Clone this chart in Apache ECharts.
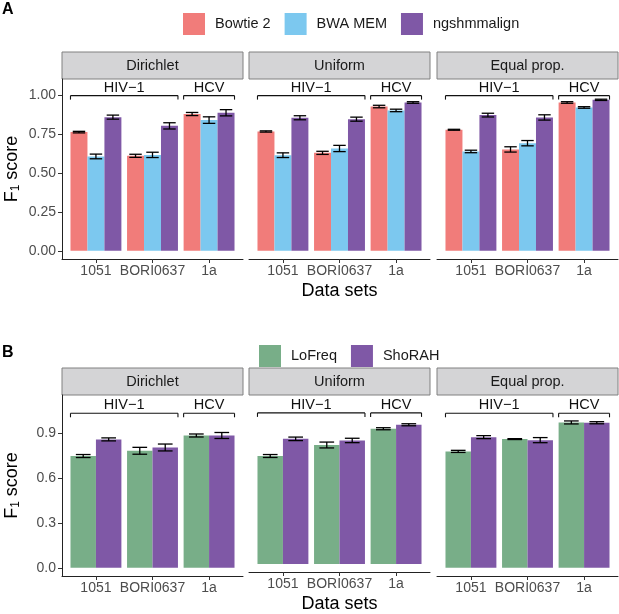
<!DOCTYPE html>
<html><head><meta charset="utf-8">
<script src="https://cdn.jsdelivr.net/npm/echarts@6/dist/echarts.min.js"></script>
<style>html,body{margin:0;padding:0;background:#fff}#c{width:619px;height:614px}</style>
</head><body><div id="c"></div>
<script>
// ---------- data ----------
const panels = ['Dirichlet', 'Uniform', 'Equal prop.'];
const datasets = ['1051', 'BORI0637', '1a'];
const virus = ['HIV\u22121', 'HIV\u22121', 'HCV'];
const methodsA = ['Bowtie 2', 'BWA MEM', 'ngshmmalign'];
const methodsB = ['LoFreq', 'ShoRAH'];
const yTicksA = [0, 0.25, 0.5, 0.75, 1];
const yTicksB = [0, 0.3, 0.6, 0.9];

// panel A values per panel (Dirichlet, Uniform, Equal prop.)
const bowtie2 = [[0.761, 0.609, 0.877], [0.765, 0.628, 0.925], [0.776, 0.650, 0.951]];
const bowtie2Err = [[0.005, 0.010, 0.010], [0.004, 0.010, 0.008], [0.003, 0.017, 0.005]];
const bwaMem = [[0.605, 0.615, 0.838], [0.613, 0.656, 0.900], [0.637, 0.690, 0.919]];
const bwaMemErr = [[0.015, 0.017, 0.021], [0.015, 0.020, 0.008], [0.008, 0.017, 0.005]];
const ngshmmalign = [[0.857, 0.801, 0.885], [0.853, 0.844, 0.951], [0.870, 0.855, 0.968]];
const ngshmmalignErr = [[0.013, 0.020, 0.020], [0.013, 0.013, 0.005], [0.012, 0.017, 0.004]];
// panel B values
const loFreq = [[0.745, 0.780, 0.882], [0.736, 0.811, 0.922], [0.776, 0.858, 0.969]];
const loFreqErr = [[0.010, 0.023, 0.010], [0.010, 0.020, 0.007], [0.007, 0.003, 0.010]];
const shoRAH = [[0.856, 0.802, 0.882], [0.853, 0.842, 0.949], [0.871, 0.851, 0.967]];
const shoRAHErr = [[0.010, 0.023, 0.020], [0.012, 0.015, 0.007], [0.010, 0.017, 0.007]];

// ---------- layout / style ----------
const FONT = '"Liberation Sans", Arial, Helvetica, sans-serif';
const colorsA = ['#F17C7A', '#7CC8EF', '#7F58A6'];
const colorsB = ['#78AE88', '#7F58A6'];
const PANEL_LEFT = [62, 249, 437];
const PANEL_W = 181;
const rows = [
  { top: 79, height: 180, yMin: -0.0525, yMax: 1.1015, ticks: yTicksA, dec: 2,
    names: methodsA, colors: colorsA, vals: [bowtie2, bwaMem, ngshmmalign], errs: [bowtie2Err, bwaMemErr, ngshmmalignErr],
    bracketY: 0.995, labelY: 1.045, capW: 0.22 },
  { top: 395, height: 181, yMin: -0.055, yMax: 1.152, ticks: yTicksB, dec: 1,
    names: methodsB, colors: colorsB, vals: [loFreq, shoRAH], errs: [loFreqErr, shoRAHErr],
    bracketY: 1.03, labelY: 1.085, capW: 0.26 }
];
const STRIP_H = 27;
const DODGE = 0.9;

const grids = [], xAxes = [], yAxes = [], series = [], graphics = [];

// virus groups from data
const vGroups = [];
virus.forEach((v, i) => {
  const last = vGroups[vGroups.length - 1];
  if (last && last.name === v) last.end = i; else vGroups.push({ name: v, start: i, end: i });
});

rows.forEach((row, r) => {
  panels.forEach((pn, p) => {
    const g = r * 3 + p;
    grids.push({ left: PANEL_LEFT[p], top: row.top, width: PANEL_W, height: row.height, containLabel: false });
    xAxes.push({
      gridIndex: g, type: 'value', min: -0.6, max: 2.6,
      axisLine: { show: true, onZero: false, lineStyle: { color: '#222', width: 1 } },
      axisTick: { show: true, customValues: [0, 1, 2], length: 4, lineStyle: { color: '#333' } },
      axisLabel: { customValues: [0, 1, 2], formatter: v => datasets[Math.round(v)], color: '#4d4d4d', fontSize: 14, fontFamily: FONT, margin: 5 },
      splitLine: { show: false },
      name: p === 1 ? 'Data sets' : '', nameLocation: 'middle', nameGap: 23,
      nameTextStyle: { fontSize: 18, color: '#000', fontFamily: FONT }
    });
    yAxes.push({
      gridIndex: g, type: 'value', min: row.yMin, max: row.yMax,
      axisLine: { show: p === 0, onZero: false, lineStyle: { color: '#222', width: 1 } },
      axisTick: { show: p === 0, customValues: row.ticks, length: 4, lineStyle: { color: '#333' } },
      axisLabel: { show: p === 0, customValues: row.ticks, formatter: v => v.toFixed(row.dec), color: '#4d4d4d', fontSize: 14, fontFamily: FONT, margin: 6 },
      splitLine: { show: false },
      name: p === 0 ? '{a|F}{s|1}{a| score}' : '', nameLocation: 'middle', nameGap: 40,
      nameTextStyle: { color: '#000', fontFamily: FONT, fontSize: 18,
        rich: { a: { fontSize: 18, fontFamily: FONT, color: '#000' }, s: { fontSize: 12, fontFamily: FONT, color: '#000', padding: [8, 0, 0, 0] } } }
    });
    // strip
    graphics.push({ type: 'rect', x: PANEL_LEFT[p], y: row.top - STRIP_H, shape: { x: 0, y: 0, width: PANEL_W, height: STRIP_H },
      style: { fill: '#D4D4D6', stroke: '#808080', lineWidth: 1 } });
    graphics.push({ type: 'text', x: PANEL_LEFT[p] + PANEL_W / 2, y: row.top - STRIP_H / 2,
      style: { text: pn, textAlign: 'center', textVerticalAlign: 'middle', font: '14.5px ' + FONT, fill: '#1a1a1a' } });

    // bars
    const n = row.names.length;
    const w = DODGE / n;
    row.names.forEach((name, k) => {
      const offset = -DODGE / 2 + w * (k + 0.5);
      const color = row.colors[k];
      const vals = row.vals[k][p], errs = row.errs[k][p];
      series.push({
        type: 'custom', name, xAxisIndex: g, yAxisIndex: g, itemStyle: { color },
        data: vals.map((v, i) => [i, v, errs[i]]),
        encode: { x: 0, y: 1 },
        renderItem: (params, api) => {
          const x = api.value(0) + offset, v = api.value(1), e = api.value(2);
          const a = api.coord([x - w / 2, v]), b = api.coord([x + w / 2, 0]);
          const lo = api.coord([x, v - e]), hi = api.coord([x, v + e]);
          const cl = api.coord([x - row.capW / 2, 0])[0], cr = api.coord([x + row.capW / 2, 0])[0];
          const ls = { stroke: '#000', lineWidth: 1.3 };
          return { type: 'group', children: [
            { type: 'rect', shape: { x: a[0], y: a[1], width: b[0] - a[0], height: b[1] - a[1] }, style: { fill: color } },
            { type: 'line', shape: { x1: lo[0], y1: lo[1], x2: hi[0], y2: hi[1] }, style: ls },
            { type: 'line', shape: { x1: cl, y1: lo[1], x2: cr, y2: lo[1] }, style: ls },
            { type: 'line', shape: { x1: cl, y1: hi[1], x2: cr, y2: hi[1] }, style: ls }
          ] };
        }
      });
    });
    // virus brackets
    series.push({
      type: 'custom', name: 'bracket' + g, xAxisIndex: g, yAxisIndex: g, silent: true,
      data: vGroups.map(v => [v.start, v.end]),
      renderItem: (params, api) => {
        const grp = vGroups[params.dataIndex];
        const L = api.coord([api.value(0) - 0.45, row.bracketY]);
        const R = api.coord([api.value(1) + 0.45, row.bracketY]);
        const T = api.coord([(api.value(0) + api.value(1)) / 2, row.labelY]);
        const ls = { stroke: '#111', lineWidth: 1.1 };
        return { type: 'group', children: [
          { type: 'line', shape: { x1: L[0], y1: L[1], x2: R[0], y2: R[1] }, style: ls },
          { type: 'line', shape: { x1: L[0], y1: L[1], x2: L[0], y2: L[1] + 4 }, style: ls },
          { type: 'line', shape: { x1: R[0], y1: R[1], x2: R[0], y2: R[1] + 4 }, style: ls },
          { type: 'text', x: T[0], y: T[1], style: { text: grp.name, textAlign: 'center', textVerticalAlign: 'middle', font: '14.5px ' + FONT, fill: '#111' } }
        ] };
      }
    });
  });
});

graphics.push({ type: 'text', x: 2, y: 2, style: { text: 'A', font: 'bold 16px ' + FONT, fill: '#000' } });
graphics.push({ type: 'text', x: 2, y: 345, style: { text: 'B', font: 'bold 16px ' + FONT, fill: '#000' } });

const legendBase = { orient: 'horizontal', icon: 'rect', itemWidth: 22, itemHeight: 22, itemGap: 14, selectedMode: false,
  textStyle: { fontSize: 14.5, color: '#1a1a1a', fontFamily: FONT, padding: [0, 0, 0, 5] } };

const option = {
  animation: false,
  backgroundColor: '#fff',
  grid: grids, xAxis: xAxes, yAxis: yAxes, series,
  legend: [
    Object.assign({}, legendBase, { data: methodsA, left: 178, top: 8 }),
    Object.assign({}, legendBase, { data: methodsB, left: 254, top: 340 })
  ],
  graphic: { elements: graphics }
};
const chart = echarts.init(document.getElementById('c'));
chart.setOption(option);
</script></body></html>
